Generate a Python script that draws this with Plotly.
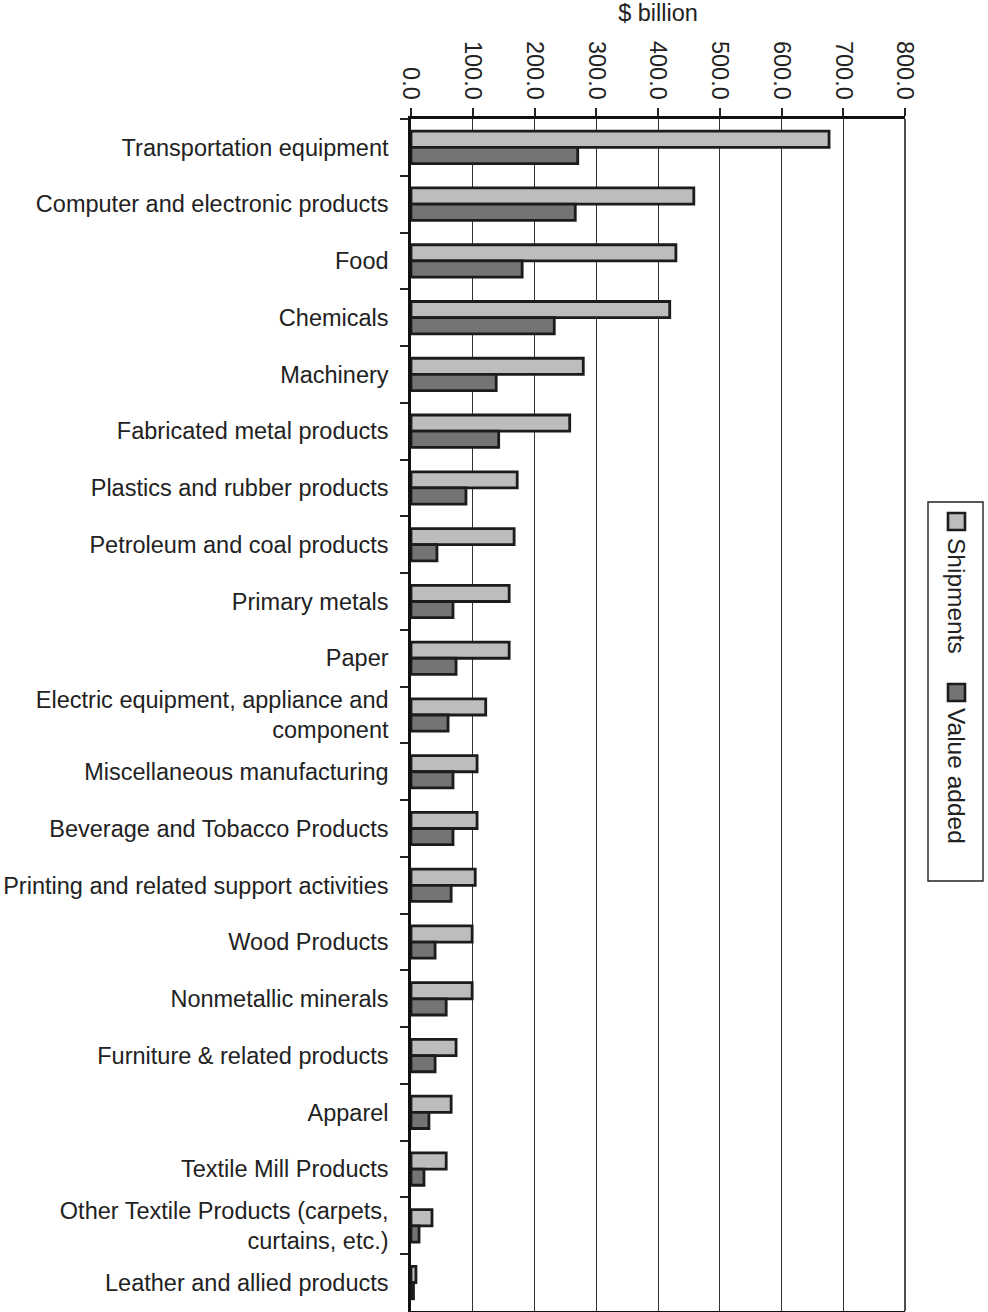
import plotly.graph_objects as go

categories = [
    "Transportation equipment",
    "Computer and electronic products",
    "Food",
    "Chemicals",
    "Machinery",
    "Fabricated metal products",
    "Plastics and rubber products",
    "Petroleum and coal products",
    "Primary metals",
    "Paper",
    "Electric equipment, appliance and<br>component",
    "Miscellaneous manufacturing",
    "Beverage and Tobacco Products",
    "Printing and related support activities",
    "Wood Products",
    "Nonmetallic minerals",
    "Furniture & related products",
    "Apparel",
    "Textile Mill Products",
    "Other Textile Products (carpets,<br>curtains, etc.)",
    "Leather and allied products",
]
shipments = [677, 458, 429, 419, 279, 257, 172, 167, 159, 159, 121, 107, 107, 104,
             99, 99, 73, 65, 57, 34, 8]
value_added = [270, 266, 180, 232, 138, 142, 89, 42, 68, 73, 60, 68, 68, 65,
               39, 57, 39, 29, 21, 13, 4]
x_ticks = [0, 100, 200, 300, 400, 500, 600, 700, 800]

FONT = "Arial, Liberation Sans, sans-serif"
W, H = 988, 1312
L, R, T, B = 411, 83, 119, 1
SHIP_COLOR = "#bcbdbf"
VA_COLOR = "#737476"
EDGE = "#1c1c1c"

fig = go.Figure()
fig.add_trace(go.Bar(y=categories, x=shipments, orientation="h", name="Shipments",
                     marker=dict(color=SHIP_COLOR, line=dict(color=EDGE, width=2.8))))
fig.add_trace(go.Bar(y=categories, x=value_added, orientation="h", name="Value added",
                     marker=dict(color=VA_COLOR, line=dict(color=EDGE, width=2.8))))

pw, ph = W - L - R, H - T - B
def px_x(X):
    return (X - L) / pw
def px_y(Y):
    return (H - B - Y) / ph

shapes = [
    dict(type="rect", xref="paper", yref="paper", x0=px_x(928), x1=px_x(983),
         y0=px_y(502), y1=px_y(881), line=dict(color="#222", width=1.4), fillcolor="white"),
    dict(type="rect", xref="paper", yref="paper", x0=px_x(948), x1=px_x(965),
         y0=px_y(513), y1=px_y(530), line=dict(color=EDGE, width=2.6), fillcolor=SHIP_COLOR),
    dict(type="rect", xref="paper", yref="paper", x0=px_x(948), x1=px_x(965),
         y0=px_y(684), y1=px_y(701), line=dict(color=EDGE, width=2.6), fillcolor=VA_COLOR),
    dict(type="line", xref="paper", yref="paper", x0=1, x1=1, y0=0, y1=1,
         line=dict(color="#222", width=1.6)),
]
annotations = [
    dict(text="Shipments", xref="paper", yref="paper", x=px_x(957), y=px_y(596),
         showarrow=False, textangle=90, font=dict(family=FONT, size=24.5, color="#222"),
         xanchor="center", yanchor="middle"),
    dict(text="Value added", xref="paper", yref="paper", x=px_x(957), y=px_y(776),
         showarrow=False, textangle=90, font=dict(family=FONT, size=24.5, color="#222"),
         xanchor="center", yanchor="middle"),
]

fig.update_layout(
    width=W, height=H,
    margin=dict(l=L, r=R, t=T, b=B, autoexpand=False),
    paper_bgcolor="white", plot_bgcolor="white",
    barmode="group", bargap=0.43, bargroupgap=0,
    showlegend=False,
    font=dict(family=FONT, size=23.5, color="#222"),
    shapes=shapes, annotations=annotations,
    xaxis=dict(side="top", range=[0, 800], tickvals=x_ticks, tickformat=".1f",
               tickangle=90, ticks="outside", ticklen=8, tickcolor="#222", tickwidth=1.5,
               showgrid=True, gridcolor="#333", gridwidth=1.3,
               showline=True, linecolor="#111", linewidth=3, mirror=True,
               zeroline=False,
               title=dict(text="$ billion", font=dict(size=23.5), standoff=13),
               tickfont=dict(size=23.5)),
    yaxis=dict(autorange="reversed", ticks="outside", ticklen=8, tickcolor="#222",
               tickwidth=1.5, tickson="boundaries",
               showline=True, linecolor="#111", linewidth=2.5, mirror=False,
               showgrid=False, tickfont=dict(size=23.5), ticklabelstandoff=15),
)

fig.write_html("out.html")
